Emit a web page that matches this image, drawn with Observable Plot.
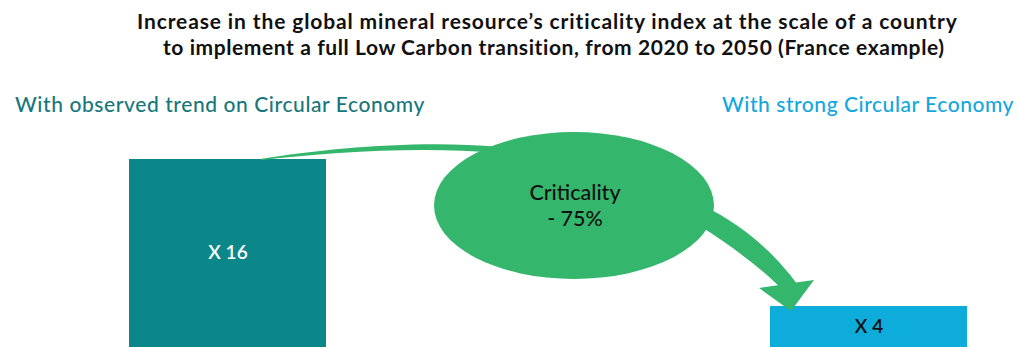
<!DOCTYPE html>
<html><head><meta charset="utf-8">
<script src="https://cdn.jsdelivr.net/npm/d3@7"></script>
<script src="https://cdn.jsdelivr.net/npm/@observablehq/plot@0.6"></script>
<style>
body{margin:0;background:#fff;font-family:Lato,"Open Sans",sans-serif;}
#wrap{position:relative;width:1018px;height:347px;overflow:hidden;}
#head{position:relative;height:120px;}
.title{position:absolute;font-weight:700;font-size:21px;color:#111;white-space:nowrap;line-height:26px;}
.sub{position:absolute;top:91px;font-size:21px;font-weight:500;line-height:26px;white-space:nowrap;}
#chart svg{display:block;overflow:visible;}
</style></head>
<body><div id="wrap"><div id="head"></div><div id="chart"></div></div>
<script>
const titleLines = [
  "Increase in the global mineral resource\u2019s criticality index at the scale of a country",
  "to implement a full Low Carbon transition, from 2020 to 2050 (France example)"
];
const categories = ["With observed trend on Circular Economy", "With strong Circular Economy"];
const values = [16, 4];
const barLabels = ["X 16", "X 4"];
const bubbleLines = ["Criticality", "- 75%"];

const barColors = ["#0b8789", "#0eacda"];
const subColors = ["#17777a", "#12a7de"];
const labelColors = ["#ffffff", "#111111"];
const green = "#34b76c";

// text layout (pixel boxes)
const titleBoxes = [[137, 958, 8], [163, 945, 34]];
const subBoxes = [[15, 425], [722, 1014]];

const head = document.getElementById("head");
function fitSpan(el, left, right) {
  const w = el.getBoundingClientRect().width;
  const n = el.textContent.length;
  el.style.letterSpacing = ((right - left) - w) / n + "px";
  el.style.left = left + "px";
}
titleLines.forEach((t, i) => {
  const d = document.createElement("span");
  d.className = "title"; d.textContent = t; d.style.top = titleBoxes[i][2] + "px";
  head.appendChild(d);
  fitSpan(d, titleBoxes[i][0], titleBoxes[i][1]);
});
categories.forEach((c, i) => {
  const d = document.createElement("span");
  d.className = "sub"; d.textContent = c; d.style.color = subColors[i];
  head.appendChild(d);
  fitSpan(d, subBoxes[i][0], subBoxes[i][1]);
});

const data = categories.map((c, i) => ({cat: c, value: values[i], label: barLabels[i], lc: labelColors[i]}));

function annotation(index, scales) {
  const x = scales.x, y = scales.y;
  const ax = x(categories[0]), ay = y(values[0]);
  const bx = x(categories[1]), by = y(values[1]);
  const g = d3.create("svg:g");
  // upper tapered stroke from the left bar to the bubble
  g.append("path").attr("fill", green).attr("d",
    `M ${ax+131},${ay} C ${ax+201},${ay-11} ${ax+291},${ay-19} ${ax+371},${ay-12}
     L ${ax+371},${ay-6} C ${ax+291},${ay-13} ${ax+201},${ay-7} ${ax+133},${ay+1} Z`);
  // lower stroke with head toward the right bar
  g.append("path").attr("fill", green).attr("d",
    `M ${bx-80},${by-106} C ${bx-35},${by-88} ${bx+2},${by-56} ${bx+26},${by-23.4}
     L ${bx+44},${by-26} L ${bx+21},${by+5} L ${bx-11},${by-18} L ${bx+8},${by-20.8}
     C ${bx-12},${by-40} ${bx-40},${by-61} ${bx-70},${by-80} L ${bx-80},${by-84} Z`);
  const cx = ax + 445, cy = ay + 46.5;
  g.append("ellipse").attr("cx", cx).attr("cy", cy).attr("rx", 140).attr("ry", 73.5).attr("fill", green);
  bubbleLines.forEach((t, i) => {
    g.append("text").attr("x", cx + 1).attr("y", cy - 5.5 + i * 26)
      .attr("text-anchor", "middle").attr("font-size", 21.5).attr("font-weight", 500)
      .attr("fill", "#111").attr("font-family", "Lato, sans-serif").text(t);
  });
  return g.node();
}

const chart = Plot.plot({
  width: 1018,
  height: 235,
  marginTop: 39, marginBottom: 0, marginLeft: 0, marginRight: 0,
  x: {type: "band", domain: categories, range: [129, 967], paddingInner: 0.6927, paddingOuter: 0, axis: null},
  y: {domain: [0, 16], axis: null},
  color: {domain: categories, range: barColors},
  style: {fontFamily: "Lato, sans-serif"},
  marks: [
    Plot.barY(data, {x: "cat", y: "value", fill: "cat", inset: 0}),
    annotation,
    Plot.text(data, {x: "cat", y: d => d.value / 2, text: "label", fill: "lc", fontSize: 19, fontWeight: 600, dy: -4.5})
  ]
});
document.getElementById("chart").appendChild(chart);
</script></body></html>
